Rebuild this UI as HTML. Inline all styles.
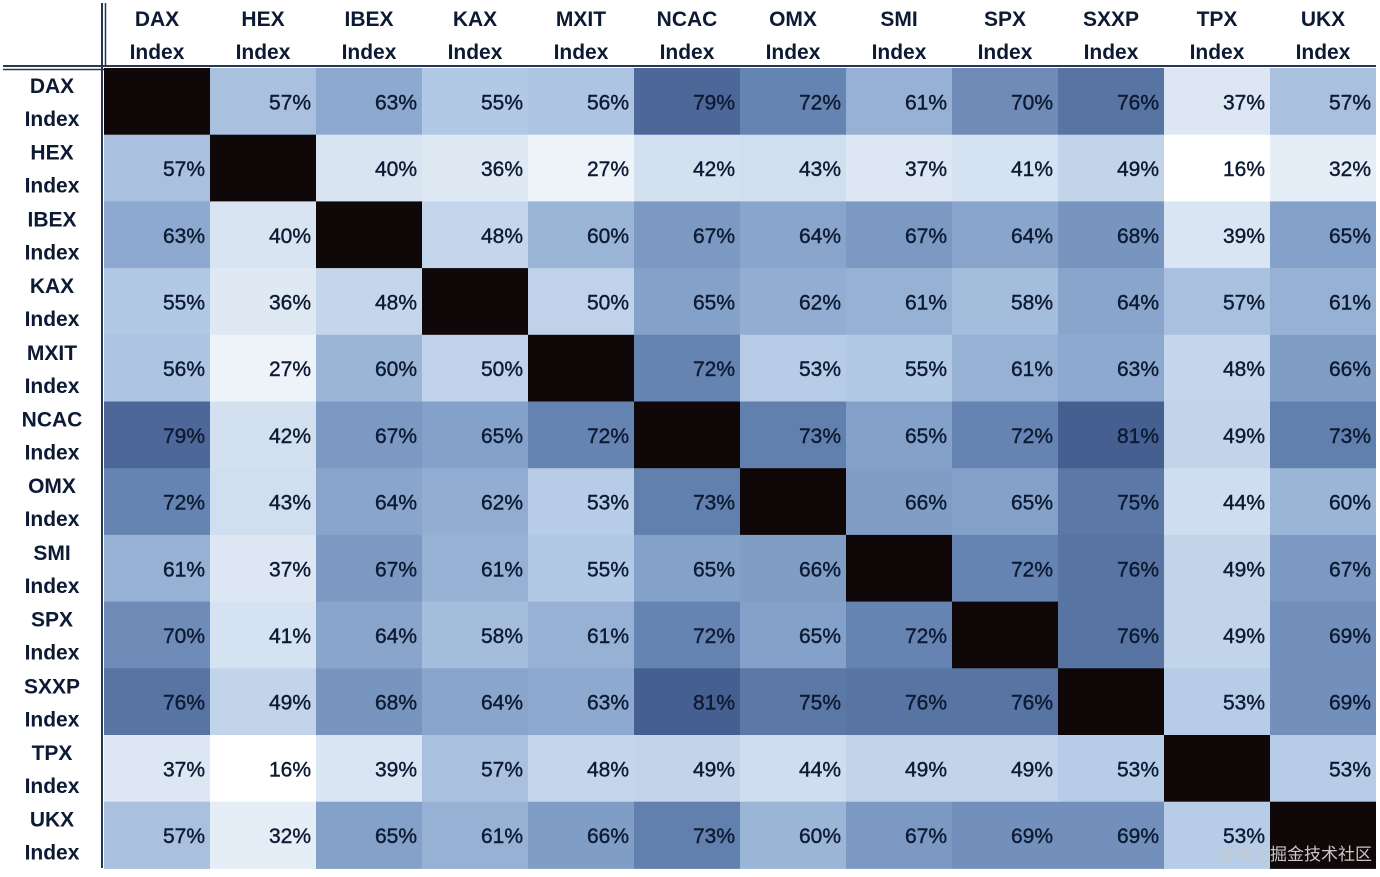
<!DOCTYPE html>
<html><head><meta charset="utf-8"><style>
body{margin:0;background:#fff;width:1380px;height:872px;overflow:hidden;font-family:"Liberation Sans",sans-serif}
svg text{font-family:"Liberation Sans",sans-serif}
</style></head><body>
<svg id="chart" width="1380" height="872" xmlns="http://www.w3.org/2000/svg"></svg>
<script>
const labels=["DAX","HEX","IBEX","KAX","MXIT","NCAC","OMX","SMI","SPX","SXXP","TPX","UKX"];
const r0=[null,57,63,55,56,79,72,61,70,76,37,57];
const r1=[57,null,40,36,27,42,43,37,41,49,16,32];
const r2=[63,40,null,48,60,67,64,67,64,68,39,65];
const r3=[55,36,48,null,50,65,62,61,58,64,57,61];
const r4=[56,27,60,50,null,72,53,55,61,63,48,66];
const r5=[79,42,67,65,72,null,73,65,72,81,49,73];
const r6=[72,43,64,62,53,73,null,66,65,75,44,60];
const r7=[61,37,67,61,55,65,66,null,72,76,49,67];
const r8=[70,41,64,58,61,72,65,72,null,76,49,69];
const r9=[76,49,68,64,63,81,75,76,76,null,53,69];
const r10=[37,16,39,57,48,49,44,49,49,53,null,53];
const r11=[57,32,65,61,66,73,60,67,69,69,53,null];
const rows=[r0,r1,r2,r3,r4,r5,r6,r7,r8,r9,r10,r11];
const NS="http://www.w3.org/2000/svg";
const svg=document.getElementById('chart');
const X0=104,Y0=68,CW=106,CH=66.7;
const xPos=i=>X0+i*CW, yPos=j=>Y0+j*CH;
const stops=[[16,[255,255,255]],[40,[216,228,242]],[55,[178,201,229]],[65,[132,161,201]],[72,[102,132,178]],[81,[70,95,145]]];
function color(v){
  for(let k=0;k<stops.length-1;k++){const a=stops[k],b=stops[k+1];
    if(v<=b[0]){const t=(v-a[0])/(b[0]-a[0]);const c=a[1].map((x,i)=>Math.round(x+(b[1][i]-x)*t));return `rgb(${c})`;}}
  return `rgb(${stops[stops.length-1][1]})`;
}
function mk(tag,attrs){const e=document.createElementNS(NS,tag);for(const k in attrs)e.setAttribute(k,attrs[k]);svg.appendChild(e);return e;}
rows.forEach((row,j)=>{
  row.forEach((v,i)=>{
    const r=mk('rect',{x:xPos(i),y:yPos(j),width:CW,height:CH+0.5,fill:v===null?'#100808':color(v)});
    
    
    if(v!==null){
      const t=mk('text',{x:xPos(i)+CW-5,y:yPos(j)+CH/2+8,'text-anchor':'end','font-size':'21',fill:'#0d1a33',stroke:'#0d1a33','stroke-width':'0.4'});
      t.textContent=v+'%';
      
      
    }
  });
});
labels.forEach((l,i)=>{
  const t=mk('text',{x:xPos(i)+CW/2,y:26,'text-anchor':'middle','font-size':'21','font-weight':'bold',fill:'#0d1a33'});
  t.textContent=l;
  
  
  const t2=mk('text',{x:xPos(i)+CW/2,y:59,'text-anchor':'middle','font-size':'21','font-weight':'bold',fill:'#0d1a33'});
  t2.textContent='Index';
  
  
  const r=mk('text',{x:52,y:yPos(i)+25,'text-anchor':'middle','font-size':'21','font-weight':'bold',fill:'#0d1a33'});
  r.textContent=l;
  
  
  const r2=mk('text',{x:52,y:yPos(i)+58,'text-anchor':'middle','font-size':'21','font-weight':'bold',fill:'#0d1a33'});
  r2.textContent='Index';
  
  
});
const l1=mk('line',{x1:3,y1:66,x2:1376,y2:66,stroke:'#2a3550','stroke-width':'2'});


const l1b=mk('line',{x1:3,y1:69.5,x2:104,y2:69.5,stroke:'#2a3550','stroke-width':'1.5'});


const l2=mk('line',{x1:102,y1:3,x2:102,y2:868,stroke:'#2a3550','stroke-width':'2'});


const l2b=mk('line',{x1:105.5,y1:3,x2:105.5,y2:66,stroke:'#2a3550','stroke-width':'1.5'});


const wm=mk('text',{x:1372,y:860,'text-anchor':'end','font-size':'17',fill:'#c8c8c8','font-family':'"Noto Sans CJK SC",sans-serif'});
wm.textContent='@稀土掘金技术社区';


</script>
</body></html>
